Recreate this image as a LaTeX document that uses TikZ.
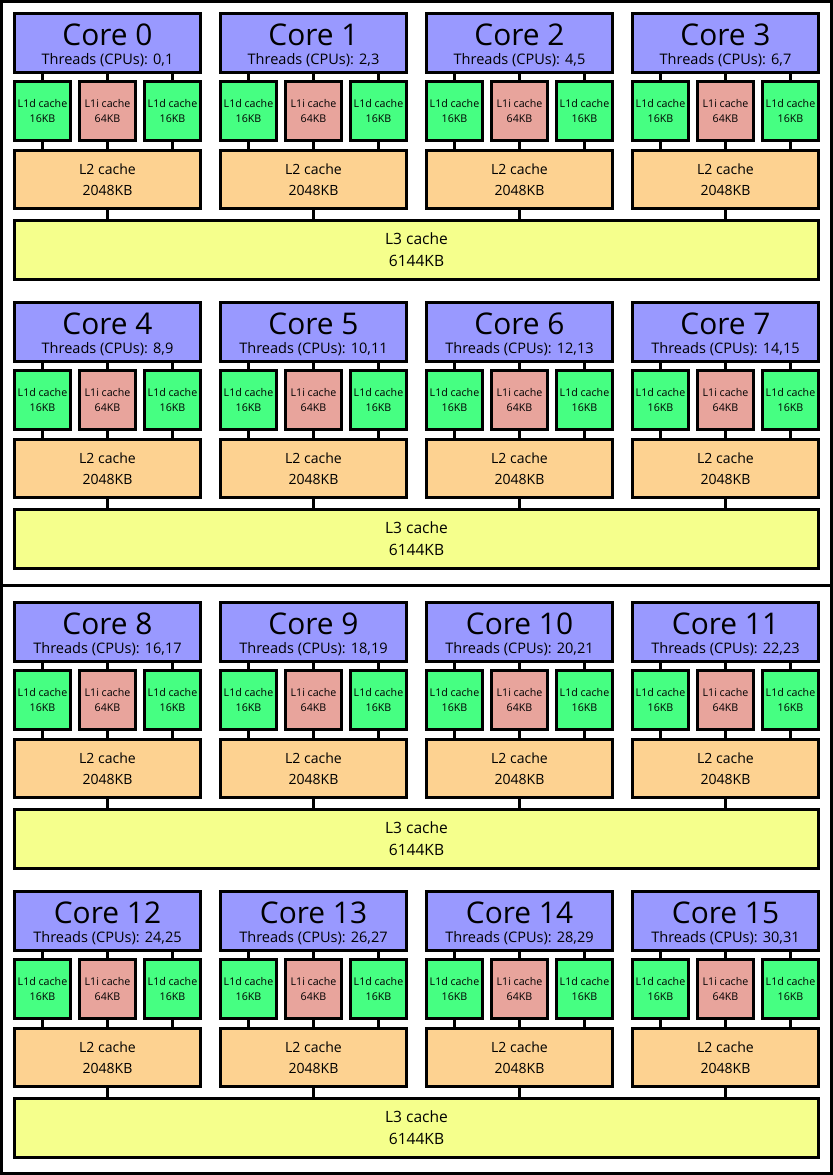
\documentclass[tikz,border=0pt]{standalone}
\usepackage{fontspec}
\setmainfont{Open Sans}
\definecolor{corecol}{RGB}{153,153,255}
\definecolor{lonedcol}{RGB}{70,255,130}
\definecolor{loneicol}{RGB}{232,164,156}
\definecolor{ltwocol}{RGB}{253,210,145}
\definecolor{lthreecol}{RGB}{245,255,140}
\begin{document}
\begin{tikzpicture}[x=1bp,y=-1bp,
  lw/.style={line width=2.6bp},
  pkgbox/.style={draw=black,line width=3bp,inner sep=0pt,outer sep=0pt,minimum width=830bp},
  cachebox/.style={draw=black,lw,inner sep=0pt,outer sep=0pt,align=center},
  corebox/.style={cachebox,fill=corecol,minimum width=186.4bp,minimum height=59.4bp},
  lonedbox/.style={cachebox,fill=lonedcol,minimum width=56.4bp,minimum height=59.4bp,font=\fontsize{10.7}{15}\selectfont},
  loneibox/.style={cachebox,fill=loneicol,minimum width=56.4bp,minimum height=59.4bp,font=\fontsize{10.7}{15}\selectfont},
  ltwobox/.style={cachebox,fill=ltwocol,minimum width=186.4bp,minimum height=58.4bp,font=\fontsize{14.1}{21}\selectfont},
  lthreebox/.style={cachebox,fill=lthreecol,minimum width=804.4bp,minimum height=59.4bp,font=\fontsize{15.6}{22}\selectfont},
  coretitle/.style={anchor=base,inner sep=0pt,font=\fontsize{30}{30}\selectfont},
  corecpus/.style={anchor=base,inner sep=0pt,font=\fontsize{14.6}{16}\selectfont},
  link/.style={lw}]
\useasboundingbox (0,0) rectangle (833,1175);
\fill[white] (0,0) rectangle (833,1175);
\node[pkgbox,minimum height=584bp] (pkg0) at (416.5,293.5) {};
\node[pkgbox,minimum height=588bp] (pkg1) at (416.5,879.5) {};
\foreach \rw/\ty in {0/12,1/301,2/601,3/890}{
  \node[lthreebox] (l3-\rw) at (416.5,\ty+238) {L3 cache\\6144KB};
  \foreach \cl in {0,1,2,3}{
    \pgfmathtruncatemacro\kk{4*\rw+\cl}
    \pgfmathtruncatemacro\ta{2*\kk}
    \pgfmathtruncatemacro\tb{2*\kk+1}
    \pgfmathsetmacro\cx{13+206*\cl+94.5}
    \pgfmathsetmacro\xa{13+206*\cl+29.5}
    \pgfmathsetmacro\xb{13+206*\cl+94.5}
    \pgfmathsetmacro\xc{13+206*\cl+159.5}
    \node[corebox] (core\kk) at (\cx,\ty+31) {};
    \node[coretitle] (core\kk-name) at (\cx,\ty+33) {Core \kk};
    \node[corecpus] (core\kk-cpus) at (\cx,\ty+52) {Threads (CPUs): \ta,\tb};
    \node[lonedbox] (l1a-\kk) at (\xa,\ty+99) {L1d cache\\16KB};
    \node[loneibox] (l1b-\kk) at (\xb,\ty+99) {L1i cache\\64KB};
    \node[lonedbox] (l1c-\kk) at (\xc,\ty+99) {L1d cache\\16KB};
    \node[ltwobox] (l2-\kk) at (\cx,\ty+167.5) {L2 cache\\2048KB};
    \foreach \nm in {l1a,l1b,l1c}{
      \draw[link] (\nm-\kk.north) -- (\nm-\kk.north |- core\kk.south);
      \draw[link] (\nm-\kk.south) -- (\nm-\kk.south |- l2-\kk.north);
    }
    \draw[link] (l2-\kk.south) -- (l2-\kk.south |- l3-\rw.north);
  }
}
\end{tikzpicture}
\end{document}
